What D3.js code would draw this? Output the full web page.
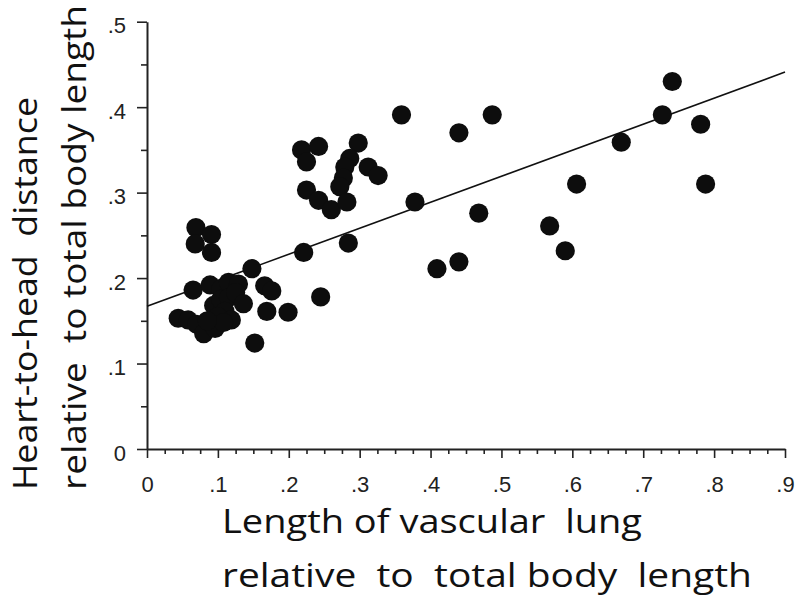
<!DOCTYPE html>
<html>
<head>
<meta charset="utf-8">
<script src="https://cdn.jsdelivr.net/npm/d3@7"></script>
<style>
  body { margin: 0; background: #fff; }
  svg { display: block; }
  .title { font-family: "Open Sans", "Noto Sans", sans-serif; fill: #111; white-space: pre; }
  .tick text { font-family: "Liberation Sans", Arial, sans-serif; }
</style>
</head>
<body>
<div id="chart"></div>
<script>
// data
var lungLength = [
  0.069, 0.091, 0.068, 0.091,
  0.065, 0.089, 0.104, 0.115, 0.129, 0.148, 0.166, 0.176,
  0.094, 0.104, 0.115, 0.125, 0.136, 0.110, 0.100,
  0.044, 0.058, 0.070, 0.080, 0.096, 0.119, 0.108, 0.085,
  0.169, 0.199, 0.152,
  0.221, 0.218, 0.242, 0.225, 0.298, 0.286, 0.279, 0.277, 0.272, 0.312, 0.326,
  0.225, 0.242, 0.260, 0.282, 0.284, 0.245,
  0.359, 0.378, 0.409, 0.440, 0.440, 0.468, 0.487, 0.568, 0.590, 0.606,
  0.669, 0.727, 0.741, 0.781, 0.788
];
var heartHead = [
  0.259, 0.251, 0.240, 0.230,
  0.186, 0.192, 0.187, 0.195, 0.193, 0.211, 0.191, 0.185,
  0.168, 0.175, 0.177, 0.183, 0.170, 0.161, 0.155,
  0.153, 0.151, 0.146, 0.135, 0.141, 0.151, 0.148, 0.150,
  0.161, 0.160, 0.124,
  0.230, 0.350, 0.354, 0.336, 0.358, 0.340, 0.330, 0.317, 0.307, 0.330, 0.320,
  0.303, 0.291, 0.280, 0.289, 0.241, 0.178,
  0.391, 0.289, 0.211, 0.219, 0.370, 0.276, 0.391, 0.261, 0.232, 0.310,
  0.359, 0.391, 0.430, 0.380, 0.310
];
// fitted line end points
var fitX = [0, 0.9];
var fitY = [0.167, 0.441];

var xMajor = [0, 0.1, 0.2, 0.3, 0.4, 0.5, 0.6, 0.7, 0.8, 0.9];
var yMajor = [0, 0.1, 0.2, 0.3, 0.4, 0.5];

var width = 800, height = 606;

var svg = d3.select("#chart")
  .append("svg")
    .attr("width", width)
    .attr("height", height);

var x = d3.scaleLinear().domain([0, 0.9]).range([147, 785]);
var y = d3.scaleLinear().domain([0, 0.5]).range([449, 21.7]);

var fmt = function(d) { return d === 0 ? "0" : d3.format(".1f")(d).replace(/^0/, ""); };

// minor ticks first
var xMinor = d3.range(0, 0.9001, 0.025).filter(function(d) { return Math.abs(d * 10 - Math.round(d * 10)) > 1e-6; });
var yMinor = [0.05, 0.15, 0.25, 0.35, 0.45];

svg.append("g")
    .attr("transform", "translate(0," + y(0) + ")")
    .call(d3.axisBottom(x).tickValues(xMinor).tickSize(5).tickFormat(""))
    .call(function(g) { g.select(".domain").remove(); })
    .selectAll("line").attr("stroke", "#222").attr("stroke-width", 1.6);

svg.append("g")
    .attr("transform", "translate(" + x(0) + ",0)")
    .call(d3.axisLeft(y).tickValues(yMinor).tickSize(6).tickFormat(""))
    .call(function(g) { g.select(".domain").remove(); })
    .selectAll("line").attr("stroke", "#222").attr("stroke-width", 1.6);

// major ticks and labels
var xAxis = svg.append("g")
    .attr("transform", "translate(0," + y(0) + ")")
    .call(d3.axisBottom(x).tickValues(xMajor).tickSize(9).tickSizeOuter(0).tickPadding(18).tickFormat(fmt));
xAxis.select(".domain").attr("stroke", "#222").attr("stroke-width", 2);
xAxis.selectAll("line").attr("stroke", "#222").attr("stroke-width", 1.6);
xAxis.selectAll("text").attr("font-size", 22).attr("fill", "#222");

var yAxis = svg.append("g")
    .attr("transform", "translate(" + x(0) + ",0)")
    .call(d3.axisLeft(y).tickValues(yMajor).tickSize(10).tickSizeOuter(0).tickPadding(11).tickFormat(fmt));
yAxis.select(".domain").attr("stroke", "#222").attr("stroke-width", 2);
yAxis.selectAll("line").attr("stroke", "#222").attr("stroke-width", 1.6);
yAxis.selectAll("text").attr("font-size", 22).attr("fill", "#222").attr("dy", "0.5em");

// regression line
svg.append("path")
    .datum(d3.zip(fitX, fitY))
    .attr("fill", "none")
    .attr("stroke", "#111")
    .attr("stroke-width", 1.6)
    .attr("d", d3.line().x(function(d) { return x(d[0]); }).y(function(d) { return y(d[1]); }));

// points
svg.append("g")
  .selectAll("circle")
  .data(d3.zip(lungLength, heartHead))
  .enter()
  .append("circle")
    .attr("cx", function(d) { return x(d[0]); })
    .attr("cy", function(d) { return y(d[1]); })
    .attr("r", 9.6)
    .attr("fill", "#0d0d0d");

// axis titles
svg.append("text").attr("class", "title")
    .attr("x", 222).attr("y", 533)
    .attr("font-size", 32)
    .attr("textLength", 420).attr("lengthAdjust", "spacingAndGlyphs")
    .text("Length of vascular  lung");
svg.append("text").attr("class", "title")
    .attr("x", 222).attr("y", 587)
    .attr("font-size", 32)
    .attr("textLength", 530).attr("lengthAdjust", "spacingAndGlyphs")
    .text("relative  to  total body  length");

svg.append("text").attr("class", "title")
    .attr("transform", "translate(37,490) rotate(-90)")
    .attr("font-size", 33)
    .attr("textLength", 393).attr("lengthAdjust", "spacingAndGlyphs")
    .text("Heart-to-head  distance");
svg.append("text").attr("class", "title")
    .attr("transform", "translate(86,490) rotate(-90)")
    .attr("font-size", 33)
    .attr("textLength", 485).attr("lengthAdjust", "spacingAndGlyphs")
    .text("relative  to total body length");
</script>
</body>
</html>
